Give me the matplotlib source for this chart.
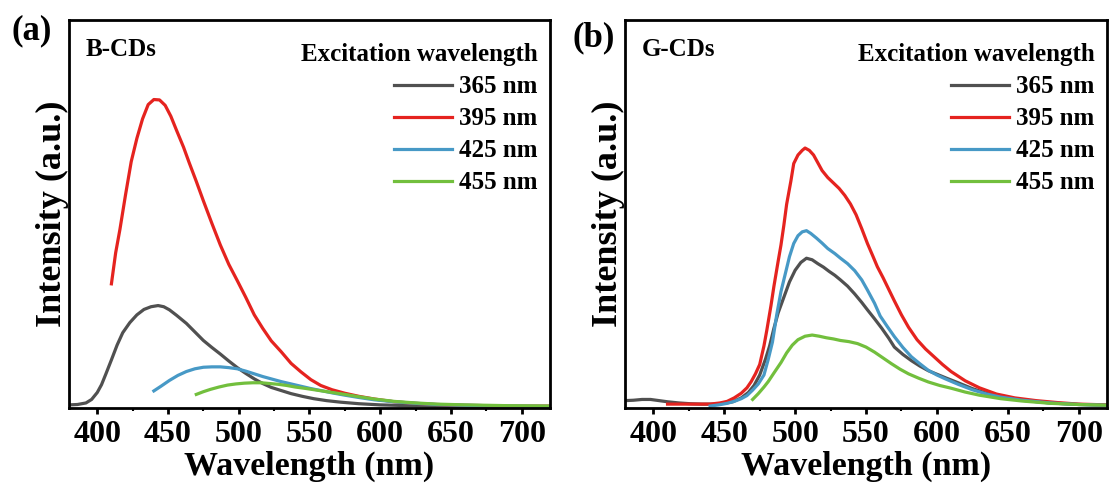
import numpy as np
import matplotlib
matplotlib.use("Agg")
import matplotlib.pyplot as plt
from matplotlib.ticker import MultipleLocator

plt.rcParams['font.family'] = ['Liberation Serif', 'DejaVu Serif']
plt.rcParams['font.weight'] = 'bold'

colors = ['#505050', '#e5231f', '#4799c6', '#72bf3d']
labels = ['365 nm', '395 nm', '425 nm', '455 nm']

# B-CDs emission spectra
b_wl_365 = [380, 386, 392, 396, 400, 403, 406, 410, 414, 418, 423, 428, 433, 438, 443, 447, 451,
            456, 463, 469, 475, 481, 487, 493, 499, 505, 511, 517, 523, 530, 537, 545, 553, 562,
            572, 585, 600, 620, 650, 690, 720]
b_int_365 = [0.008, 0.009, 0.013, 0.022, 0.040, 0.060, 0.087, 0.124, 0.162, 0.194, 0.220, 0.240,
             0.254, 0.261, 0.264, 0.261, 0.253, 0.239, 0.218, 0.196, 0.174, 0.156, 0.139, 0.121,
             0.104, 0.089, 0.075, 0.063, 0.053, 0.045, 0.037, 0.030, 0.024, 0.019, 0.015, 0.011,
             0.008, 0.006, 0.004, 0.003, 0.003]
b_wl_395 = [410, 413, 416, 420, 424, 428, 432, 436, 440, 444, 448, 452, 456, 461, 465, 470, 475,
            481, 487, 493, 499, 505, 511, 517, 523, 530, 537, 544, 551, 558, 566, 575, 585, 596,
            610, 625, 640, 660, 690, 720]
b_int_395 = [0.320, 0.400, 0.460, 0.550, 0.635, 0.695, 0.745, 0.782, 0.795, 0.794, 0.780, 0.752,
             0.716, 0.672, 0.632, 0.584, 0.534, 0.476, 0.420, 0.370, 0.328, 0.285, 0.240, 0.205,
             0.173, 0.145, 0.115, 0.093, 0.073, 0.058, 0.047, 0.038, 0.030, 0.023, 0.016, 0.012,
             0.009, 0.007, 0.005, 0.005]
b_wl_425 = [440, 445, 451, 457, 463, 469, 475, 481, 487, 493, 499, 505, 511, 517, 523, 530, 537,
            544, 551, 558, 566, 575, 585, 596, 610, 625, 640, 660, 690, 720]
b_int_425 = [0.044, 0.056, 0.071, 0.084, 0.094, 0.101, 0.105, 0.106, 0.106, 0.104, 0.101, 0.095,
             0.088, 0.081, 0.075, 0.068, 0.062, 0.056, 0.050, 0.045, 0.039, 0.033, 0.027, 0.021,
             0.016, 0.012, 0.009, 0.007, 0.005, 0.004]
b_wl_455 = [470, 475, 480, 486, 492, 498, 504, 510, 516, 522, 528, 534, 540, 548, 557, 566, 575,
            585, 596, 610, 625, 640, 660, 690, 720]
b_int_455 = [0.035, 0.042, 0.048, 0.054, 0.059, 0.062, 0.064, 0.065, 0.065, 0.063, 0.061, 0.058,
             0.054, 0.050, 0.045, 0.040, 0.035, 0.029, 0.023, 0.017, 0.013, 0.010, 0.008, 0.006,
             0.005]

# G-CDs emission spectra
g_wl_365 = [380, 386, 392, 398, 404, 410, 418, 426, 434, 442, 450, 456, 462, 467, 471, 475, 479,
            482, 485, 488, 492, 496, 500, 504, 508, 512, 516, 520, 524, 528, 532, 537, 542, 547,
            551, 556, 561, 566, 570, 576, 582, 588, 594, 600, 606, 615, 625, 635, 645, 660, 680,
            700, 720]
g_int_365 = [0.019, 0.020, 0.022, 0.022, 0.019, 0.016, 0.013, 0.011, 0.010, 0.010, 0.012, 0.016,
             0.026, 0.040, 0.058, 0.085, 0.125, 0.160, 0.205, 0.245, 0.285, 0.325, 0.355, 0.375,
             0.386, 0.382, 0.372, 0.363, 0.352, 0.342, 0.330, 0.314, 0.294, 0.272, 0.253, 0.230,
             0.206, 0.180, 0.157, 0.138, 0.122, 0.108, 0.096, 0.087, 0.078, 0.065, 0.050, 0.038,
             0.029, 0.020, 0.013, 0.009, 0.007]
g_wl_395 = [410, 420, 430, 440, 447, 452, 457, 462, 466, 469, 472, 475, 478, 480, 483, 485, 488,
            490, 492, 494, 497, 499, 502, 505, 507, 510, 513, 516, 519, 523, 527, 531, 535, 539,
            543, 547, 551, 555, 558, 562, 566, 570, 575, 580, 586, 592, 598, 604, 610, 620, 630,
            642, 655, 670, 685, 700, 720]
g_int_395 = [0.010, 0.010, 0.010, 0.010, 0.013, 0.017, 0.026, 0.038, 0.052, 0.068, 0.088, 0.112,
             0.160, 0.200, 0.265, 0.313, 0.378, 0.420, 0.470, 0.525, 0.585, 0.630, 0.652, 0.664,
             0.670, 0.664, 0.652, 0.632, 0.612, 0.594, 0.580, 0.566, 0.548, 0.526, 0.498, 0.462,
             0.424, 0.390, 0.364, 0.336, 0.306, 0.276, 0.240, 0.208, 0.176, 0.152, 0.132, 0.112,
             0.094, 0.070, 0.052, 0.036, 0.026, 0.019, 0.014, 0.010, 0.008]
g_wl_425 = [440, 446, 452, 457, 462, 466, 470, 474, 478, 481, 484, 487, 490, 493, 496, 499, 502,
            505, 508, 511, 515, 519, 523, 528, 532, 537, 542, 547, 551, 556, 560, 565, 570, 576,
            582, 588, 594, 600, 606, 615, 625, 635, 645, 660, 680, 700, 720]
g_int_425 = [0.005, 0.008, 0.012, 0.017, 0.024, 0.032, 0.046, 0.062, 0.085, 0.125, 0.170, 0.240,
             0.300, 0.345, 0.390, 0.424, 0.444, 0.454, 0.457, 0.450, 0.438, 0.425, 0.411, 0.398,
             0.386, 0.372, 0.354, 0.330, 0.304, 0.270, 0.237, 0.210, 0.184, 0.156, 0.132, 0.114,
             0.097, 0.085, 0.075, 0.061, 0.047, 0.036, 0.028, 0.020, 0.013, 0.009, 0.007]
g_wl_455 = [470, 474, 478, 481, 485, 490, 494, 498, 502, 507, 512, 517, 522, 527, 532, 538, 544,
            550, 556, 562, 568, 574, 580, 587, 594, 602, 610, 620, 630, 645, 660, 680, 700, 720]
g_int_455 = [0.022, 0.037, 0.054, 0.068, 0.090, 0.117, 0.142, 0.162, 0.176, 0.185, 0.188, 0.185,
             0.181, 0.178, 0.174, 0.171, 0.166, 0.157, 0.144, 0.129, 0.114, 0.100, 0.088, 0.077,
             0.067, 0.058, 0.051, 0.041, 0.033, 0.024, 0.018, 0.012, 0.009, 0.007]

panels = [
    ('(a)', (-0.077, 0.972), 'B-CDs', [(b_wl_365, b_int_365), (b_wl_395, b_int_395),
                                       (b_wl_425, b_int_425), (b_wl_455, b_int_455)]),
    ('(b)', (-0.064, 0.955), 'G-CDs', [(g_wl_365, g_int_365), (g_wl_395, g_int_395),
                                       (g_wl_425, g_int_425), (g_wl_455, g_int_455)]),
]

fig = plt.figure(figsize=(11.09, 4.83), dpi=100)
axes_rects = [[0.0622, 0.1553, 0.4337, 0.8033], [0.5636, 0.1553, 0.4346, 0.8033]]

for rect, (tag, tag_xy, name, series) in zip(axes_rects, panels):
    ax = fig.add_axes(rect)
    for (wl, inten), c, lab in zip(series, colors, labels):
        ax.plot(wl, inten, color=c, lw=2.3, label=lab)
    ax.set_xlim(380, 720)
    ax.set_ylim(0, 1.0)
    ax.xaxis.set_major_locator(MultipleLocator(50))
    ax.xaxis.set_minor_locator(MultipleLocator(25))
    ax.set_yticks([])
    for s in ax.spines.values():
        s.set_linewidth(2.0)
    ax.tick_params(axis='x', which='major', direction='out', length=4, width=2,
                   labelsize=23, pad=5)
    ax.tick_params(axis='x', which='minor', direction='out', length=2.5, width=1.5)
    ax.set_xlabel('Wavelength (nm)', fontsize=24.5, fontweight='bold', labelpad=1)
    ax.set_ylabel('Intensity (a.u.)', fontsize=26, fontweight='bold', labelpad=0)
    ax.text(0.035, 0.925, name, transform=ax.transAxes, fontsize=18,
            fontweight='bold', va='center', ha='left')
    ax.text(tag_xy[0], tag_xy[1], tag, transform=ax.transAxes, fontsize=25,
            fontweight='bold', va='center', ha='center')
    leg = ax.legend(loc='upper right', bbox_to_anchor=(0.975, 0.94), frameon=False,
                    title='Excitation wavelength', alignment='right',
                    prop={'size': 18, 'weight': 'bold'},
                    title_fontproperties={'size': 18, 'weight': 'bold'},
                    handlelength=2.3, handletextpad=0.3, labelspacing=0.36,
                    borderpad=0, borderaxespad=0)

fig.savefig('out.png', dpi=100)
